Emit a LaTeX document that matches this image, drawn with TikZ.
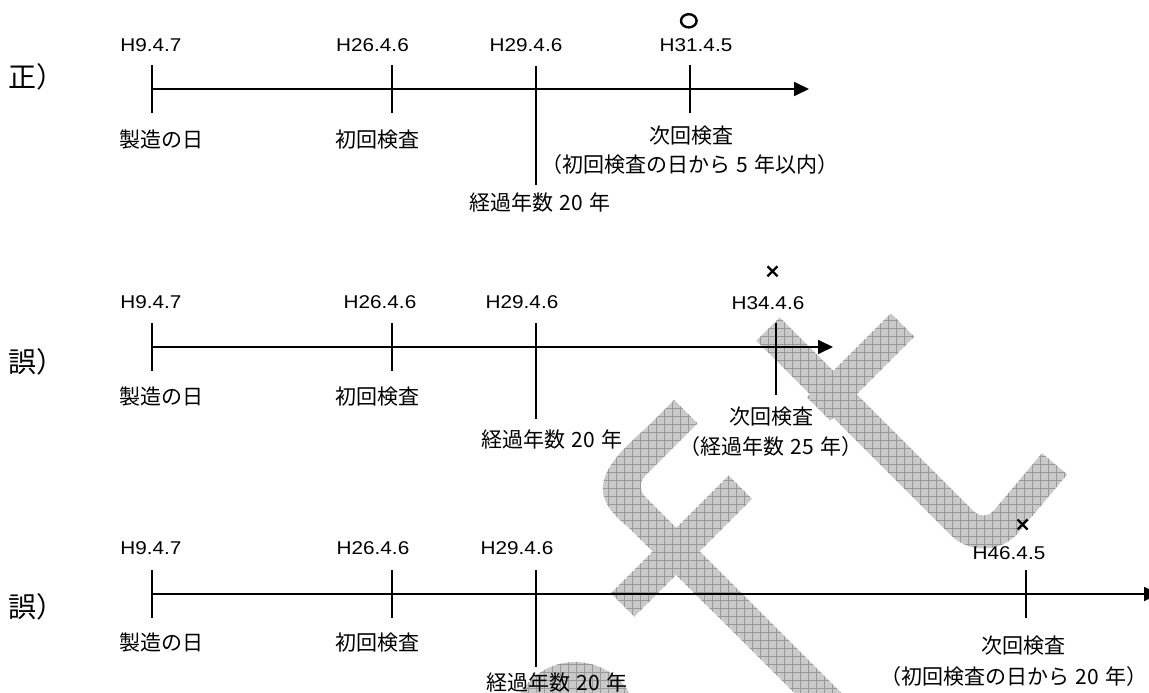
\documentclass[tikz,border=0pt]{standalone}
\usepackage{fontspec}
\setmainfont{Liberation Sans}
\newfontfamily\jp{Noto Sans CJK JP}
\newfontfamily\lat[FakeStretch=1.12]{Liberation Sans}
\usetikzlibrary{arrows.meta}
\tikzset{
  hl/.style={font=\lat\fontsize{18.5}{20}\selectfont, inner sep=0pt},
  jl/.style={font=\jp\fontsize{21}{24}\selectfont, inner sep=0pt},
  hd/.style={font=\jp\fontsize{28}{30}\selectfont, inner sep=0pt, anchor=west},
  axisline/.style={line width=1.8pt, -{Triangle[length=15pt,width=14pt]}},
  tickline/.style={line width=1.8pt},
  boldtick/.style={line width=2.6pt},
  wmfill/.style={fill=black!21},
  wmgrid/.style={draw=black!40, line width=0.6pt, step=8pt},
  crossmark/.style={line width=2.3pt},
}
\newcommand{\wmfillgrid}{%
  \fill[wmfill] (480,250) rectangle (1120,740);
  \draw[wmgrid] (480,248) grid (1120,744);}
\newcommand{\jsp}{\hspace{0.28em}}
\begin{document}
\begin{tikzpicture}[x=1pt,y=-1pt]
\useasboundingbox (0,0) rectangle (1149,693);
\fill[white] (0,0) rectangle (1149,693);
\clip (0,0) rectangle (1149,693);

% ---------- watermark (grey hatched strokes) ----------
\begin{scope}
  \clip (779.7,317.3) -- (973.9,511.5) arc[start angle=135, end angle=40, radius=13.5]
        -- (1042.0,453.2) -- (1067.2,474.4) -- (1019.0,531.9)
        arc[start angle=40, end angle=135, radius=46.5] -- (756.3,340.7) -- cycle;
  \wmfillgrid
\end{scope}
\begin{scope}
  \clip (890.8,313.3) -- (914.2,336.7) -- (830.2,420.7) -- (806.8,397.3) -- cycle;
  \wmfillgrid
\end{scope}
\begin{scope}
  \clip (674.1,400) -- (645,429) .. controls (593,474) and (591,497) .. (628,527)
        -- (833.3,731.7) -- (856.7,708.3) -- (645.2,496.9)
        arc[start angle=135, end angle=225, radius=15] -- (697.5,423.4) -- cycle;
  \wmfillgrid
\end{scope}
\begin{scope}
  \clip (728.6,475.5) -- (752,498.9) -- (634.2,616.7) -- (610.8,593.3) -- cycle;
  \wmfillgrid
\end{scope}
\begin{scope}
  \clip (575,725) circle[radius=63];
  \wmfillgrid
\end{scope}

% ---------- headings ----------
\node[hd] (h1) at (8,77) {正）};
\node[hd] (h2) at (8,362) {誤）};
\node[hd] (h3) at (8,607) {誤）};

% ---------- timeline 1 ----------
\coordinate (a1s) at (152,89);
\coordinate (a1e) at (809,89);
\draw[axisline] (a1s) -- (a1e);
\draw[tickline] (152,65) -- (152,113);
\draw[tickline] (392,65) -- (392,113);
\draw[boldtick] (536,66) -- (536,185);
\draw[tickline] (690,65) -- (690,113);
\node[hl] (t1a) at (151,45) {H9.4.7};
\node[hl] (t1b) at (372.5,45) {H26.4.6};
\node[hl] (t1c) at (526,45) {H29.4.6};
\node[hl] (t1d) at (696,45) {H31.4.5};
\draw[line width=2.4pt] (688.8,20.8) ellipse[x radius=7.8, y radius=6.6];
\node[jl] (b1a) at (161,140) {製造の日};
\node[jl] (b1b) at (377,140) {初回検査};
\node[jl] (b1c) at (691.5,136) {次回検査};
\node[jl] (b1d) at (690,165) {（初回検査の日から\jsp{}5\jsp{}年以内）};
\node[jl] (b1e) at (540,203) {経過年数\jsp{}20\jsp{}年};

% ---------- timeline 2 ----------
\coordinate (a2s) at (152,347);
\coordinate (a2e) at (833,347);
\draw[axisline] (a2s) -- (a2e);
\draw[tickline] (152,323) -- (152,371);
\draw[tickline] (392,323) -- (392,371);
\draw[tickline] (536,323) -- (536,419);
\draw[tickline] (776,323) -- (776,395);
\node[hl] (t2a) at (151,302) {H9.4.7};
\node[hl] (t2b) at (380,302) {H26.4.6};
\node[hl] (t2c) at (522,302) {H29.4.6};
\node[hl] (t2d) at (768,303) {H34.4.6};
\draw[crossmark] (767.5,266.3) -- (777.5,276.3) (767.5,276.3) -- (777.5,266.3);
\node[jl] (b2a) at (161,397) {製造の日};
\node[jl] (b2b) at (377,397) {初回検査};
\node[jl] (b2c) at (552,440) {経過年数\jsp{}20\jsp{}年};
\node[jl] (b2d) at (771,417) {次回検査};
\node[jl] (b2e) at (771,447) {（経過年数\jsp{}25\jsp{}年）};

% ---------- timeline 3 ----------
\coordinate (a3s) at (152,594);
\coordinate (a3e) at (1159,594);
\draw[axisline] (a3s) -- (a3e);
\draw[tickline] (152,570) -- (152,618);
\draw[tickline] (392,570) -- (392,618);
\draw[tickline] (536,570) -- (536,667);
\draw[tickline] (1026,570) -- (1026,618);
\node[hl] (t3a) at (151,548) {H9.4.7};
\node[hl] (t3b) at (373,548) {H26.4.6};
\node[hl] (t3c) at (517,548) {H29.4.6};
\node[hl] (t3d) at (1009,553) {H46.4.5};
\draw[crossmark] (1017.5,519.5) -- (1027.5,529.5) (1017.5,529.5) -- (1027.5,519.5);
\node[jl] (b3a) at (161,643) {製造の日};
\node[jl] (b3b) at (377,643) {初回検査};
\node[jl] (b3c) at (557,683) {経過年数\jsp{}20\jsp{}年};
\node[jl] (b3d) at (1023,646) {次回検査};
\node[jl] (b3e) at (1014,677) {（初回検査の日から\jsp{}20\jsp{}年）};
\end{tikzpicture}
\end{document}
